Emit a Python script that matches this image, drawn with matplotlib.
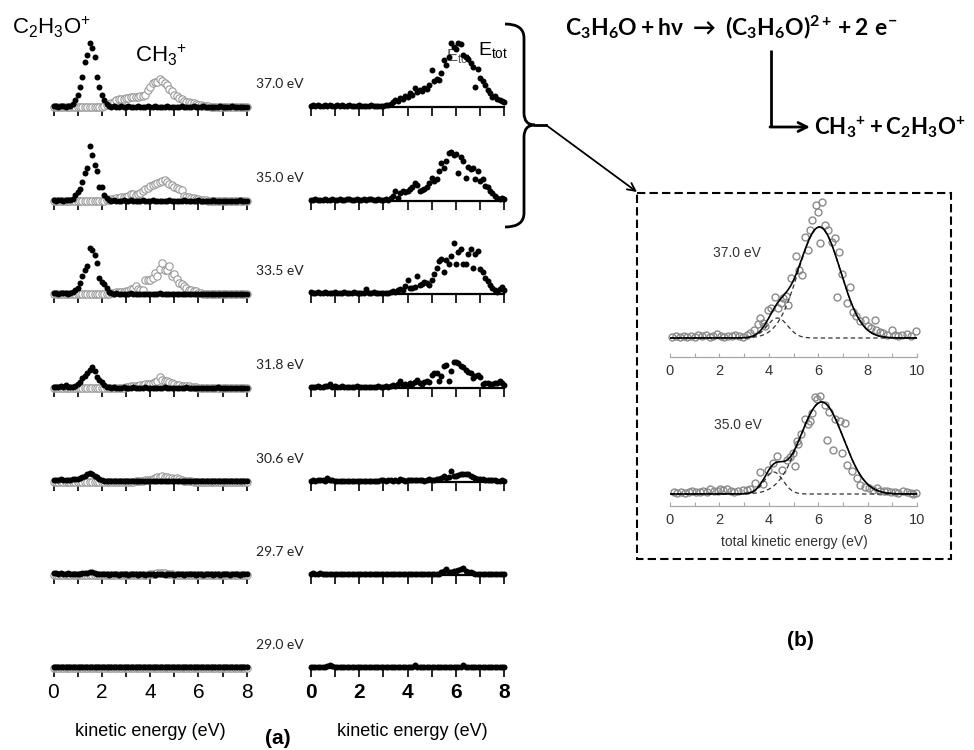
import numpy as np
import matplotlib
matplotlib.use('Agg')
import matplotlib.pyplot as plt
from matplotlib.path import Path
from matplotlib.patches import PathPatch, Rectangle

plt.rcParams['mathtext.fontset'] = 'custom'
plt.rcParams['mathtext.rm'] = 'Liberation Sans'
plt.rcParams['mathtext.it'] = 'Liberation Sans:italic'
plt.rcParams['mathtext.bf'] = 'Lato:bold'
plt.rcParams['mathtext.fallback'] = 'stixsans'
plt.rcParams['font.family'] = ['Liberation Sans', 'DejaVu Sans']

# ---------------- data (a) ----------------
ke = [round(0.1 * i, 1) for i in range(81)]          # kinetic energy bins (eV)
photon_labels = ['37.0 eV', '35.0 eV', '33.5 eV', '31.8 eV', '30.6 eV', '29.7 eV', '29.0 eV']

c2h3o_370 = [1,1,0,1,1,0,1,1,3,7, 12,20,30,45,52,64,59,50,30,20, 12,7,3,1,0,1,0,0,1,0, 0,1,0,0,0,1,0,0,0,1,
             0,0,1,0,0,0,0,1,0,0, 0,0,0,1,0,0,0,0,1,0, 0,0,1,0,0,0,0,0,0,1, 0,0,0,0,1,0,0,0,0,0, 0]
ch3_370 = [0,0,0,0,0,0,0,0,0,0, 0,0,0,0,0,0,0,0,0,0, 0,1,2,3,4,5,7,8,8,8, 9,9,10,10,10,10,11,11,12,17,
           20,24,25,25,28,26,24,22,18,16, 12,11,9,8,6,5,5,4,4,3, 2,2,1,1,1,0,0,0,0,0, 0,0,0,0,0,0,0,0,0,0, 0]
etot_370 = [1,2,1,2,1,1,2,1,2,1, 1,2,1,2,1,1,2,1,1,1, 2,1,1,1,1,2,1,1,1,1, 1,2,2,3,5,7,6,9,8,11,
            10,14,12,19,15,17,16,19,18,22, 37,26,28,27,34,47,42,50,64,60, 58,64,63,52,50,48,44,40,20,38,
            29,26,22,17,14,10,11,8,7,6, 5]

c2h3o_350 = [1,0,1,1,0,1,1,1,2,6, 9,12,19,28,33,55,46,36,30,14, 14,6,3,1,0,1,0,0,0,1, 0,0,1,0,0,0,0,1,0,0,
             0,1,0,0,0,0,0,0,1,0, 0,0,0,0,1,0,0,0,0,0, 1,0,0,0,0,0,1,0,0,0, 0,0,0,0,0,0,0,1,0,0, 0]
ch3_350 = [0,0,0,0,0,0,0,0,0,0, 0,0,0,0,0,0,0,0,0,0, 0,0,1,1,2,2,3,3,4,4, 4,5,7,7,6,7,8,10,12,13,
           15,16,17,18,19,20,21,19,17,16, 14,13,12,11,5,4,4,3,3,2, 2,1,1,1,0,0,0,0,0,0, 0,0,0,0,0,0,0,0,0,0, 0]
etot_350 = [1,1,2,1,1,1,2,1,1,2, 1,1,2,1,1,2,2,1,1,2, 1,1,2,1,2,2,1,1,2,1, 1,2,1,3,5,10,3,8,10,9,
            10,12,14,18,16,10,11,12,14,18, 23,20,22,30,38,33,40,48,49,46, 47,28,44,40,23,34,32,33,22,30,
            20,22,15,14,10,8,5,3,2,3, 2]

c2h3o_335 = [1,1,0,1,1,1,0,1,2,4, 6,11,18,24,28,46,44,39,31,16, 12,10,6,2,1,0,1,0,0,0, 0,0,1,0,0,0,0,0,0,0,
             0,0,0,0,1,0,0,0,0,0, 0,0,0,0,0,0,0,0,0,0, 0,0,0,0,0,0,0,0,0,0, 0,0,0,0,0,0,0,0,0,0, 0]
ch3_335 = [0,0,0,0,0,0,0,0,0,0, 0,0,0,0,0,0,0,0,0,0, 0,0,0,0,1,1,2,2,2,2, 3,3,5,5,8,5,4,4,14,14,
           14,16,21,18,25,31,24,24,28,18, 20,15,11,10,8,6,4,4,3,3, 1,1,0,0,0,0,0,0,0,0, 0,0,0,0,0,0,0,0,0,0, 0]
etot_335 = [2,1,1,2,1,1,2,1,1,1, 2,1,1,1,2,1,1,1,2,1, 1,1,1,5,1,1,2,1,1,1, 1,1,1,2,3,2,4,5,4,8,
            14,6,6,7,18,9,10,12,11,9, 14,20,26,33,35,22,34,30,38,51, 30,42,45,30,30,40,45,26,40,43,
            25,22,16,13,9,6,4,2,5,7, 4]

c2h3o_318 = [1,1,1,2,1,3,1,1,1,2, 4,6,10,12,15,18,21,17,11,8, 6,3,1,1,0,1,0,0,0,1, 0,0,0,1,0,0,0,0,1,0,
             0,0,0,0,0,0,1,0,0,0, 0,0,0,0,0,1,0,0,0,0, 0,0,0,0,0,0,0,0,1,0, 0,0,0,0,0,0,0,0,0,0, 0]
ch3_318 = [0,0,0,0,0,0,0,0,0,0, 0,0,0,0,0,0,0,0,0,0, 0,0,0,0,0,0,0,0,0,0, 1,1,2,2,2,2,3,3,4,4,
           4,5,6,7,11,8,7,7,6,5, 4,3,3,2,2,2,2,1,1,1, 0,0,0,0,0,0,0,0,0,0, 0,0,0,0,0,0,0,0,0,0, 0]
etot_318 = [1,1,1,2,1,1,2,2,4,1, 2,1,1,2,1,1,1,1,1,2, 1,1,1,1,1,1,1,1,2,1, 1,2,1,2,3,2,4,7,3,4,
            3,5,4,6,8,5,4,6,7,6, 13,15,15,7,12,22,23,7,17,26, 26,25,22,21,18,16,15,10,12,13,
            11,4,5,5,4,4,5,5,7,5, 3]

c2h3o_306 = [2,2,2,3,2,2,2,2,3,3, 3,4,5,6,8,9,8,6,5,3, 2,1,1,1,1,1,1,1,1,1, 1,1,1,1,1,1,1,1,1,1,
             1,1,1,1,1,1,1,1,1,1, 1,1,1,1,1,1,1,1,1,1, 1,1,1,1,1,1,1,1,1,1, 1,1,1,1,1,1,1,1,1,1, 1]
ch3_306 = [0,0,0,0,0,0,0,0,0,0, 0,0,0,0,0,0,0,0,0,0, 0,0,0,0,0,0,0,0,0,0, 0,0,0,0,1,1,1,1,2,2,
           2,3,4,5,5,6,5,5,4,4, 3,4,3,2,1,1,1,1,0,0, 0,0,0,0,0,0,0,0,0,0, 0,0,0,0,0,0,0,0,0,0, 0]
etot_306 = [1,2,1,2,2,2,1,4,2,2, 1,1,1,1,1,1,1,1,1,1, 1,1,1,1,1,1,1,1,1,2, 2,1,2,2,1,2,1,3,2,1,
            2,2,2,2,2,2,2,1,2,3, 2,2,3,3,4,6,4,5,11,6, 6,7,8,8,8,8,6,5,4,3, 3,3,2,2,2,2,2,1,1,2, 1]

c2h3o_297 = [2,2,1,2,1,1,2,1,1,1, 1,1,2,2,2,3,3,2,1,1, 1,1,1,0,1,1,1,0,1,1, 1,0,1,1,1,0,1,1,0,1,
             1,1,0,1,1,1,0,1,1,1, 0,1,1,1,0,1,1,1,1,0, 1,1,0,1,1,1,0,1,1,0, 1,1,1,0,1,1,1,0,1,1, 1]
ch3_297 = [0,0,0,0,0,0,0,0,0,0, 0,0,0,0,0,0,0,0,0,0, 0,0,0,0,0,0,0,0,0,0, 0,0,0,0,0,0,0,0,0,0,
           1,1,1,2,2,2,2,1,1,1, 0,0,0,0,0,0,0,0,0,0, 0,0,0,0,0,0,0,0,0,0, 0,0,0,0,0,0,0,0,0,0, 0]
etot_297 = [1,2,1,1,2,1,1,1,1,1, 1,1,1,1,1,1,1,1,1,1, 1,1,1,1,1,1,1,1,1,1, 1,1,1,1,1,1,1,1,1,1,
            1,1,1,1,1,1,1,1,1,1, 1,1,1,1,3,4,6,3,3,4, 4,5,6,7,4,3,3,2,1,1, 1,1,1,1,1,1,1,1,1,1, 1]

c2h3o_290 = [1,1,1,1,1,1,1,1,1,1, 1,1,1,1,1,1,1,1,1,1, 1,1,1,1,1,1,1,1,1,1, 1,1,1,1,1,1,1,1,1,1,
             1,1,1,1,1,1,1,1,1,1, 1,1,1,1,1,1,1,1,1,1, 1,1,1,1,1,1,1,1,1,1, 1,1,1,1,1,1,1,1,1,1, 1]
ch3_290 = [0,0,0,0,0,0,0,0,0,0, 0,0,0,0,0,0,0,0,0,0, 0,0,0,0,0,0,0,0,0,0, 0,0,0,0,0,0,0,0,0,0,
           0,0,0,0,0,0,0,0,0,0, 0,0,0,0,0,0,0,0,0,0, 0,0,0,0,0,0,0,0,0,0, 0,0,0,0,0,0,0,0,0,0, 0]
etot_290 = [1,1,1,1,1,1,1,2,3,2, 1,1,1,1,1,1,1,1,1,1, 1,1,1,1,1,1,1,1,1,1, 1,1,1,1,1,1,1,1,1,1,
            1,1,1,3,1,1,1,1,1,1, 1,1,1,1,1,1,1,1,1,1, 1,1,1,3,1,1,1,1,1,1, 1,1,1,1,1,1,1,1,1,1, 1]

rows = [(c2h3o_370, ch3_370, etot_370), (c2h3o_350, ch3_350, etot_350),
        (c2h3o_335, ch3_335, etot_335), (c2h3o_318, ch3_318, etot_318),
        (c2h3o_306, ch3_306, etot_306), (c2h3o_297, ch3_297, etot_297),
        (c2h3o_290, ch3_290, etot_290)]
for r in rows:
    for s in r:
        assert len(s) == 81, len(s)

# ---------------- data (b) ----------------
tke_37 = [0.1,0.25,0.4,0.55,0.7,0.85,1.0,1.15,1.3,1.45,1.6,1.75,1.9,2.05,2.2,2.35,2.5,2.65,2.8,2.95,
          3.1,3.25,3.4,3.55,3.64,3.75,3.85,3.97,4.1,4.25,4.37,4.5,4.57,4.71,4.77,4.91,5.1,5.24,5.35,5.45,
          5.57,5.65,5.76,5.9,5.98,6.07,6.17,6.28,6.4,6.55,6.68,6.75,6.85,6.96,7.15,7.29,7.4,7.55,7.69,7.9,
          8.0,8.15,8.3,8.36,8.5,8.62,8.8,8.97,9.1,9.25,9.4,9.6,9.75,9.96]
cnt_37 = [1,2,1,2,1,2,1,3,2,3, 1,2,4,2,1,2,2,3,2,1, 3,5,8,14,20,15,12,28,30,41,
          30,35,40,42,33,60,82,68,63,101, 88,108,118,133,126,95,136,113,108,96,
          100,41,86,64,35,51,26,22,17,18, 12,10,18,8,6,5,3,8,3,2, 3,4,2,7]
tke_35 = [0.15,0.3,0.45,0.6,0.75,0.9,1.05,1.2,1.35,1.5,1.62,1.8,1.95,2.02,2.15,2.3,2.45,2.6,2.75,2.96,
          3.1,3.25,3.44,3.64,3.77,3.97,4.18,4.32,4.52,4.72,4.86,4.97,5.06,5.13,5.18,5.32,5.47,5.6,5.67,5.74,
          5.87,5.94,6.07,6.28,6.34,6.45,6.6,6.68,6.88,6.95,7.09,7.15,7.36,7.56,7.69,7.9,8.05,8.2,8.37,8.5,
          8.65,8.77,8.95,9.1,9.25,9.44,9.6,9.75,9.84,9.95]
cnt_35 = [2,1,2,1,2,3,2,2,3,2, 5,3,3,5,4,5,3,2,3,4, 4,5,11,22,10,24,31,38,24,34,
          37,41,28,53,50,60,75,70,73,81, 97,95,98,89,54,82,44,75,73,41,
          71,29,23,16,9,7,6,4,6,3, 3,3,2,2,1,3,2,1,0,1]
assert len(tke_37) == len(cnt_37) and len(tke_35) == len(cnt_35)

# Gaussian fit components (amplitude, centre, sigma)
fit_37 = [(111, 6.05, 0.85), (20, 4.35, 0.42)]
fit_35 = [(92, 6.14, 0.88), (22, 4.20, 0.38)]

# ---------------- figure ----------------
W, H = 974, 750
fig = plt.figure(figsize=(W / 100, H / 100), dpi=100)

ov = fig.add_axes([0, 0, 1, 1])
ov.set_xlim(0, W)
ov.set_ylim(H, 0)
ov.axis('off')


def px_axes(x0, x1, ybase, ytop):
    ax = fig.add_axes([x0 / W, 1 - ybase / H, (x1 - x0) / W, (ybase - ytop) / H])
    ax.patch.set_visible(False)
    return ax


row_base = [107, 201, 294, 388, 482, 575, 668]
col_x = [(53.5, 246.8), (310.5, 504.5)]

for i, (f, o, e) in enumerate(rows):
    yb = row_base[i]
    last = i == len(rows) - 1
    for c, (x0, x1) in enumerate(col_x):
        ax = px_axes(x0, x1, yb, yb - 75)
        ax.set_xlim(0, 8)
        ax.set_ylim(0, 75)
        if c == 0:
            ax.plot(ke, o, 'o', ms=5.3, mfc='white', mec='#999999', mew=0.8, clip_on=False, zorder=3)
            ax.plot(ke, f, 'o', ms=4.3, color='black', mew=0, clip_on=False, zorder=4)
        else:
            ax.plot(ke, e, 'o', ms=4.3, color='black', mew=0, clip_on=False, zorder=4)
        for s in ['left', 'right', 'top']:
            ax.spines[s].set_visible(False)
        ax.spines['bottom'].set_linewidth(1.6)
        ax.set_yticks([])
        ax.set_xticks(range(9))
        ax.tick_params(axis='x', direction='out', length=6.5, width=1.2, labelsize=15, pad=4)
        if last:
            ax.set_xticklabels(['0', '', '2', '', '4', '', '6', '', '8'],
                               fontweight='bold' if c == 1 else 'normal')
        else:
            ax.set_xticklabels([])
    ov.text(280, yb - 23, photon_labels[i], ha='center', va='center', fontsize=10, family='Lato', color='#222')

# ---------------- inset (b) ----------------
xs = np.linspace(0, 10, 500)


def gauss(x, a, c, s):
    return a * np.exp(-(x - c) ** 2 / (2 * s ** 2))


for (yb, ytop, ylo, tke, cnt, fit) in [(357, 198, -19, tke_37, cnt_37, fit_37),
                                       (506, 380, -12, tke_35, cnt_35, fit_35)]:
    ax = px_axes(670, 917, yb, ytop)
    ax.set_xlim(0, 10)
    ax.set_ylim(ylo, ylo + (yb - ytop))
    ax.plot(tke, cnt, 'o', ms=5, mfc='none', mec='#8a8a8a', mew=1.0, zorder=2, clip_on=False)
    comps = [gauss(xs, *p) for p in fit]
    for cp in comps:
        ax.plot(xs, cp, color='#333333', lw=0.9, ls=(0, (3.5, 2.5)), zorder=3)
    ax.plot(xs, sum(comps), color='black', lw=1.2, zorder=4)
    for s in ['left', 'right', 'top']:
        ax.spines[s].set_visible(False)
    ax.spines['bottom'].set_color('#a8a8a8')
    ax.spines['bottom'].set_linewidth(0.9)
    ax.set_yticks([])
    ax.set_xticks(range(0, 11, 2))
    ax.set_xticks(range(11), minor=True)
    ax.tick_params(axis='x', which='both', direction='in', length=3, width=0.8, color='#a8a8a8',
                   labelsize=10.5, labelcolor='#333333', pad=5)

ov.text(737, 253, '37.0 eV', ha='center', va='center', fontsize=10, color='#333333')
ov.text(738, 425, '35.0 eV', ha='center', va='center', fontsize=10, color='#333333')
ov.text(794, 542, 'total kinetic energy (eV)', ha='center', va='center', fontsize=10, color='#333333')
ov.add_patch(Rectangle((637, 193), 314, 366, fill=False, lw=1.5, ls=(0, (4, 2)), ec='black'))

# ---------------- annotations ----------------
brace_top = Path([(505, 24), (524, 24), (524, 38), (524, 113), (524, 125), (535, 125)],
                 [Path.MOVETO, Path.CURVE3, Path.CURVE3, Path.LINETO, Path.CURVE3, Path.CURVE3])
brace_bot = Path([(505, 227), (524, 227), (524, 213), (524, 137), (524, 125), (535, 125)],
                 [Path.MOVETO, Path.CURVE3, Path.CURVE3, Path.LINETO, Path.CURVE3, Path.CURVE3])
for p in (brace_top, brace_bot):
    ov.add_patch(PathPatch(p, fill=False, lw=2, ec='black'))
ov.plot([535, 546], [125, 125], color='black', lw=2)
ov.annotate('', xy=(637, 192), xytext=(546, 125),
            arrowprops=dict(arrowstyle='->', lw=1.3, color='black', shrinkA=0, shrinkB=0, mutation_scale=14))

ov.text(565, 27, r'$\mathbf{C_3H_6O + h\nu\ \rightarrow\ (C_3H_6O)^{2+} + 2\ e^{-}}$',
        ha='left', va='center', fontsize=16.5)
ov.plot([771, 771], [50, 127], color='black', lw=2, solid_capstyle='butt')
ov.annotate('', xy=(810, 127), xytext=(770, 127),
            arrowprops=dict(arrowstyle='->', lw=2, color='black', shrinkA=0, shrinkB=0, mutation_scale=16))
ov.text(814, 127, r'$\mathbf{CH_3{}^{+} + C_2H_3O^{+}}$', ha='left', va='center', fontsize=16)

ov.text(12, 27, r'$\mathrm{C_2H_3O^{+}}$', ha='left', va='center', fontsize=16)
ov.text(135, 55, r'$\mathrm{CH_3{}^{+}}$', ha='left', va='center', fontsize=16)
ov.text(446, 57, r'$\mathrm{E_{tot}}$', ha='left', va='center', fontsize=12, color='#555555')
ov.text(478, 50, r'$\mathrm{E_{tot}}$', ha='left', va='center', fontsize=14)

ov.text(150, 732, 'kinetic energy (eV)', ha='center', va='center', fontsize=13)
ov.text(412, 732, 'kinetic energy (eV)', ha='center', va='center', fontsize=13)
ov.text(278, 738, '(a)', ha='center', va='center', fontsize=15, fontweight='bold')
ov.text(800, 641, '(b)', ha='center', va='center', fontsize=15, fontweight='bold')

fig.savefig('out.png', dpi=100)
